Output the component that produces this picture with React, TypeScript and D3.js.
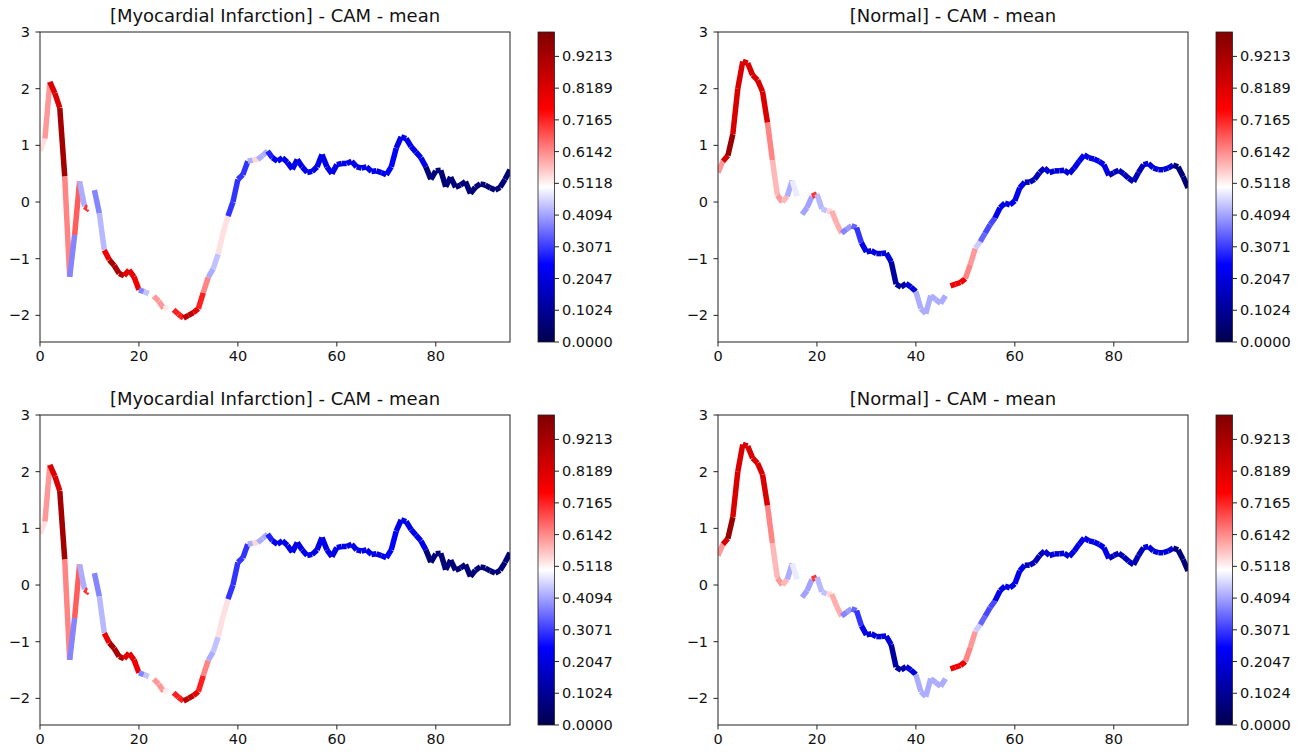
import React from 'react';
import * as d3 from 'd3';

// signal values, one per sample (0..95)
const miValues = [
  0.9, 1.12, 2.12, 1.92, 1.66, 0.45, -1.32, -0.58, 0.36, -0.08,
  -0.14, 0.21, -0.2, -0.85, -1.02, -1.12, -1.26, -1.3, -1.2, -1.32,
  -1.55, -1.58, -1.62, -1.66, -1.75, -1.88, -1.86, -1.9, -1.98, -2.05,
  -2.0, -1.95, -1.88, -1.6, -1.33, -1.18, -0.92, -0.55, -0.25, 0.0,
  0.4, 0.48, 0.72, 0.74, 0.75, 0.82, 0.9, 0.78, 0.72, 0.78,
  0.7, 0.58, 0.75, 0.62, 0.52, 0.54, 0.62, 0.84, 0.62, 0.5,
  0.66, 0.68, 0.68, 0.72, 0.62, 0.6, 0.62, 0.54, 0.55, 0.52,
  0.48, 0.62, 0.95, 1.15, 1.12, 0.98, 0.88, 0.78, 0.62, 0.4,
  0.55, 0.56, 0.27, 0.44, 0.26, 0.3, 0.36, 0.15, 0.26, 0.32,
  0.3, 0.25, 0.21, 0.26, 0.4, 0.57,
];

// CAM value of the segment starting at each sample
const miCam = [
  0.53, 0.6, 0.82, 0.82, 0.93, 0.62, 0.38, 0.66, 0.42, 0.7,
  0.5, 0.38, 0.43, 0.78, 0.92, 0.92, 0.9, 0.8, 0.8, 0.78,
  0.38, 0.44, 0.5, 0.6, 0.6, 0.52, 0.5, 0.72, 0.72, 0.88,
  0.88, 0.8, 0.72, 0.62, 0.42, 0.44, 0.53, 0.53, 0.3, 0.3,
  0.3, 0.3, 0.42, 0.54, 0.42, 0.42, 0.28, 0.22, 0.22, 0.22,
  0.22, 0.22, 0.22, 0.22, 0.22, 0.22, 0.22, 0.22, 0.22, 0.22,
  0.22, 0.22, 0.22, 0.22, 0.22, 0.22, 0.22, 0.22, 0.22, 0.22,
  0.25, 0.25, 0.22, 0.22, 0.22, 0.22, 0.22, 0.22, 0.06, 0.06,
  0.06, 0.06, 0.06, 0.06, 0.06, 0.06, 0.06, 0.06, 0.06, 0.06,
  0.06, 0.06, 0.06, 0.06, 0.06, 0.06,
];

const normalValues = [
  0.52, 0.72, 0.82, 1.2, 2.0, 2.48, 2.45, 2.24, 2.15, 1.95,
  1.4, 0.74, 0.12, 0.0, 0.1, 0.38, 0.1, -0.22, -0.1, 0.1,
  0.14, -0.12, -0.16, -0.16, -0.38, -0.55, -0.48, -0.42, -0.45, -0.72,
  -0.88, -0.86, -0.91, -0.91, -0.9, -1.05, -1.45, -1.5, -1.44, -1.5,
  -1.58, -1.88, -1.97, -1.65, -1.72, -1.79, -1.65, -1.48, -1.45, -1.42,
  -1.35, -1.1, -0.82, -0.7, -0.55, -0.4, -0.28, -0.1, -0.02, -0.05,
  0.02, 0.25, 0.35, 0.35, 0.4, 0.52, 0.6, 0.52, 0.55, 0.55,
  0.56, 0.5, 0.6, 0.72, 0.83, 0.78, 0.76, 0.72, 0.66, 0.47,
  0.52, 0.56, 0.5, 0.42, 0.36, 0.52, 0.66, 0.68, 0.6, 0.57,
  0.57, 0.6, 0.65, 0.62, 0.45, 0.25,
];

const normalCam = [
  0.6, 0.83, 0.95, 0.82, 0.82, 0.82, 0.82, 0.82, 0.82, 0.82,
  0.62, 0.57, 0.6, 0.57, 0.42, 0.48, 0.5, 0.41, 0.41, 0.7,
  0.43, 0.44, 0.54, 0.58, 0.58, 0.38, 0.4, 0.35, 0.3, 0.22,
  0.2, 0.2, 0.2, 0.2, 0.2, 0.12, 0.12, 0.12, 0.2, 0.2,
  0.42, 0.42, 0.42, 0.42, 0.42, 0.42, 0.5, 0.78, 0.78, 0.78,
  0.62, 0.6, 0.45, 0.35, 0.32, 0.32, 0.22, 0.22, 0.22, 0.22,
  0.22, 0.22, 0.15, 0.15, 0.15, 0.15, 0.2, 0.2, 0.2, 0.2,
  0.2, 0.2, 0.22, 0.22, 0.22, 0.22, 0.22, 0.22, 0.22, 0.15,
  0.15, 0.15, 0.15, 0.15, 0.15, 0.15, 0.2, 0.2, 0.2, 0.2,
  0.2, 0.2, 0.06, 0.06, 0.06, 0.06,
];

const xTicks = [0, 20, 40, 60, 80];
const yTicks = [-2, -1, 0, 1, 2, 3];
const cbarTicks = ['0.0000', '0.1024', '0.2047', '0.3071', '0.4094', '0.5118', '0.6142', '0.7165', '0.8189', '0.9213'];

const panels = [
  { title: '[Myocardial Infarction] - CAM - mean', values: miValues, cam: miCam, col: 0, row: 0 },
  { title: '[Normal] - CAM - mean', values: normalValues, cam: normalCam, col: 1, row: 0 },
  { title: '[Myocardial Infarction] - CAM - mean', values: miValues, cam: miCam, col: 0, row: 1 },
  { title: '[Normal] - CAM - mean', values: normalValues, cam: normalCam, col: 1, row: 1 },
];

// matplotlib "seismic"
const seismic = d3.scaleLinear<string>()
  .domain([0, 0.25, 0.5, 0.75, 1])
  .range(['#00004d', '#0000ff', '#ffffff', '#ff0000', '#800000']);

const font = 'DejaVu Sans, sans-serif';
const axW = 470;
const axH = 310;

function Panel({ p, idx }) {
  const left = p.col === 0 ? 40 : 718;
  const top = p.row === 0 ? 32 : 415;
  const x = d3.scaleLinear().domain([0, 95]).range([0, axW]);
  const y = d3.scaleLinear().domain([-2.47, 3]).range([axH, 0]);
  const cb = d3.scaleLinear().domain([0, 1.0]).range([axH, 0]);
  const cbX = axW + 28;
  const cbW = 16.5;
  const gid = `cbar-${idx}`;

  const segs = p.values.slice(0, -1).map((v, i) => ({
    x1: x(i), y1: y(v), x2: x(i + 1), y2: y(p.values[i + 1]), c: p.cam[i],
  }));

  return (
    <g transform={`translate(${left},${top})`}>
      <defs>
        <linearGradient id={gid} x1="0" y1="1" x2="0" y2="0">
          {d3.range(0, 1.0001, 0.05).map(t => (
            <stop key={t} offset={t} stopColor={seismic(t)} />
          ))}
        </linearGradient>
        <clipPath id={`clip-${idx}`}>
          <rect x={0} y={0} width={axW} height={axH} />
        </clipPath>
      </defs>
      <text x={axW / 2} y={-10} textAnchor="middle" fontSize={18} fontFamily={font} fill="#111">{p.title}</text>
      <g clipPath={`url(#clip-${idx})`}>
        {segs.map((s, i) => (
          <line key={i} x1={s.x1} y1={s.y1} x2={s.x2} y2={s.y2}
            stroke={seismic(s.c)} strokeWidth={5.5} strokeLinecap="butt" />
        ))}
      </g>
      <rect x={0} y={0} width={axW} height={axH} fill="none" stroke="#222" strokeWidth={1} />
      {xTicks.map(t => (
        <g key={t} transform={`translate(${x(t)},${axH})`}>
          <line y2={4.5} stroke="#222" />
          <text y={19} textAnchor="middle" fontSize={14.5} fontFamily={font} fill="#111">{t}</text>
        </g>
      ))}
      {yTicks.map(t => (
        <g key={t} transform={`translate(0,${y(t)})`}>
          <line x2={-4.5} stroke="#222" />
          <text x={-10} dy="0.35em" textAnchor="end" fontSize={14.5} fontFamily={font} fill="#111">{t < 0 ? `\u2212${-t}` : t}</text>
        </g>
      ))}
      <rect x={cbX} y={0} width={cbW} height={axH} fill={`url(#${gid})`} />
      <rect x={cbX} y={0} width={cbW} height={axH} fill="none" stroke="#222" strokeWidth={0.8} />
      {cbarTicks.map(t => (
        <g key={t} transform={`translate(${cbX + cbW},${cb(+t)})`}>
          <line x2={4.5} stroke="#222" />
          <text x={7.5} dy="0.35em" fontSize={14.5} fontFamily={font} fill="#111">{t}</text>
        </g>
      ))}
    </g>
  );
}

export default function App() {
  return (
    <div style={{ position: 'absolute', left: 0, top: 0 }}>
      <svg width={1308} height={752} style={{ display: 'block', background: '#fff' }}>
        {panels.map((p, i) => <Panel key={i} p={p} idx={i} />)}
      </svg>
    </div>
  );
}
